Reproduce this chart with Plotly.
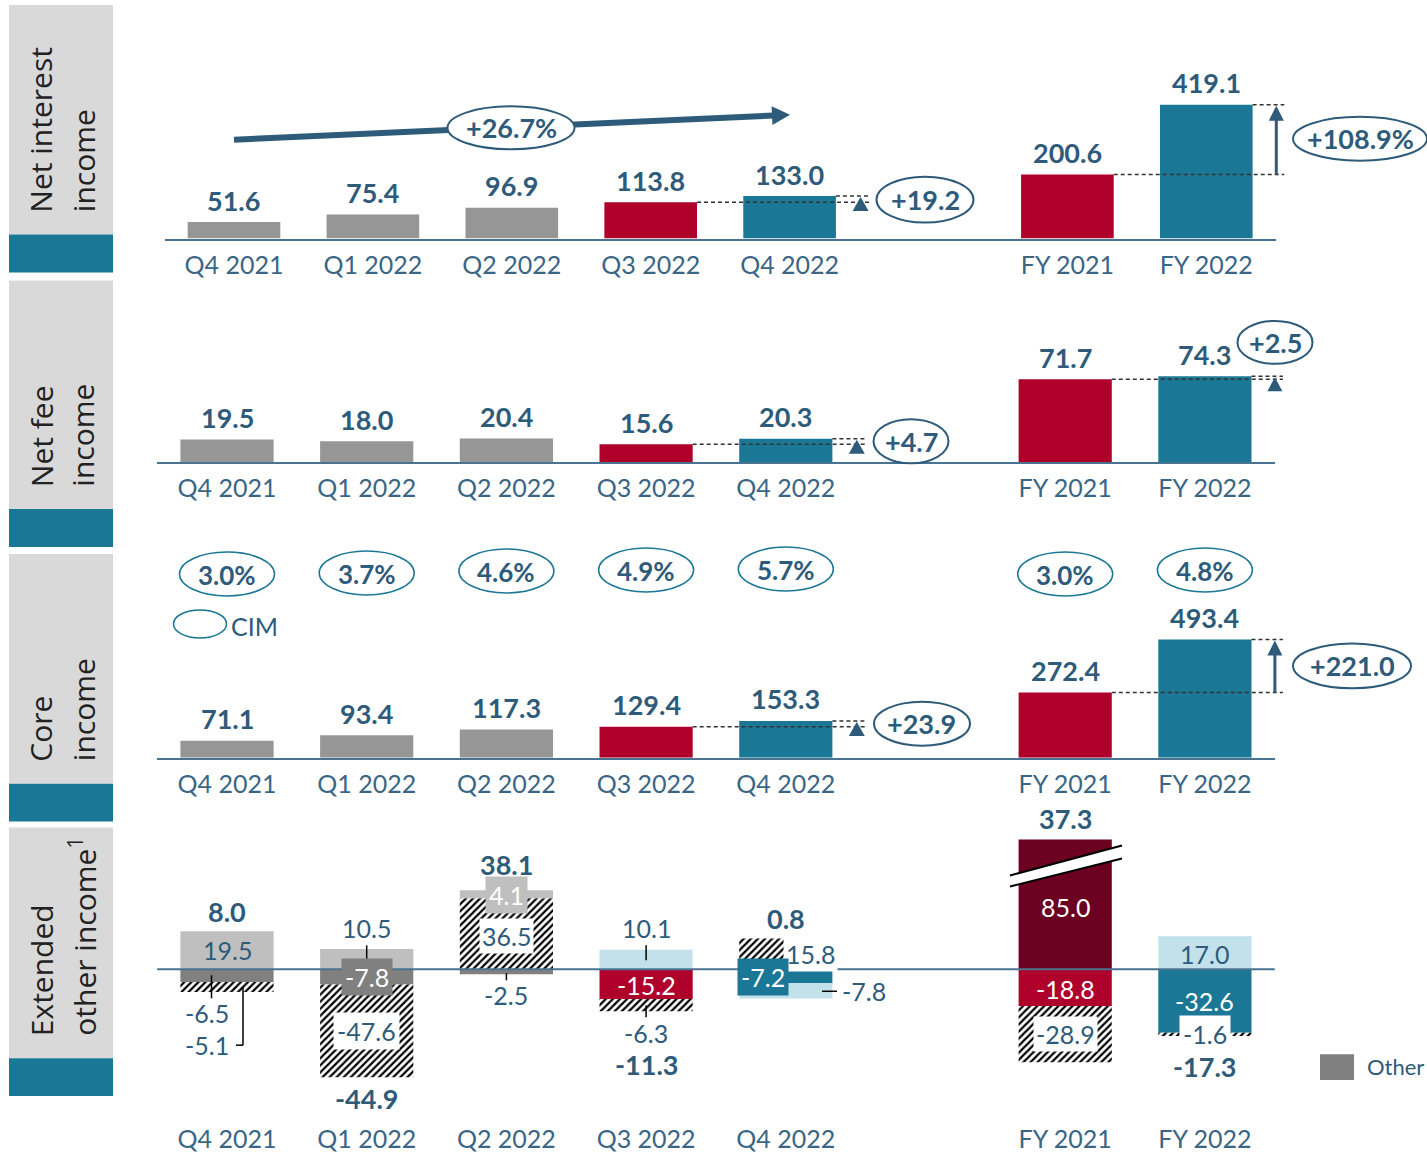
import plotly.graph_objects as go

# ---------------------------------------------------------------- data
periods = ["Q4 2021", "Q1 2022", "Q2 2022", "Q3 2022", "Q4 2022", "FY 2021", "FY 2022"]
xpos = [0, 1, 2, 3, 4, 6, 7]

nii = [51.6, 75.4, 96.9, 113.8, 133.0, 200.6, 419.1]
nfi = [19.5, 18.0, 20.4, 15.6, 20.3, 71.7, 74.3]
core = [71.1, 93.4, 117.3, 129.4, 153.3, 272.4, 493.4]
cim = ["3.0%", "3.7%", "4.6%", "4.9%", "5.7%", "3.0%", "4.8%"]

eoi_other = [-6.5, -7.8, -2.5, -15.2, -7.2, -18.8, -32.6]
eoi_hatched = [-5.1, -47.6, 36.5, -6.3, 15.8, -28.9, -1.6]
eoi_light = [19.5, 10.5, 4.1, 10.1, -7.8, 85.0, 17.0]
eoi_total = [8.0, -44.9, 38.1, -11.3, 0.8, 37.3, -17.3]

nii_qoq, nii_trend, nii_yoy = "+19.2", "+26.7%", "+108.9%"
nfi_qoq, nfi_yoy = "+4.7", "+2.5"
core_qoq, core_yoy = "+23.9", "+221.0"

side_titles = [("Net interest", "income"), ("Net fee", "income"),
               ("Core", "income"), ("Extended", "other income<sup>1</sup>")]

# ---------------------------------------------------------------- style
W, H = 1427, 1153
FONT = "Lato"
SIDE_FONT = "Open Sans"
GRAY, RED, TEAL, DARKRED = "#969696", "#AF002B", "#1A7796", "#6B0021"
LGRAY, DGRAY, LBLUE = "#BFBFBF", "#808080", "#C2E1EB"
NAVY, TICK, AXIS = "#2E5B7A", "#3A6585", "#4A7391"
BAR_W = 0.667
VAL_SIZE = 27

bar_colors = [GRAY, GRAY, GRAY, RED, TEAL, RED, TEAL]
other_colors = [DGRAY, DGRAY, DGRAY, RED, TEAL, RED, TEAL]
light_colors = [LGRAY, LGRAY, LGRAY, LBLUE, LBLUE, DARKRED, LBLUE]

# pixel geometry of each panel: x of first slot, slot width, baseline, px per unit
geo = {
    1: dict(x0=234.0, unit=138.9, base=239.0, scale=0.32, top=55.0, bottom=239.0),
    2: dict(x0=227.0, unit=139.7, base=463.0, scale=1.16, top=300.0, bottom=463.0),
    3: dict(x0=227.0, unit=139.7, base=759.0, scale=0.24, top=600.0, bottom=759.0),
    4: dict(x0=227.0, unit=139.7, base=971.0, scale=1.95, top=841.0, bottom=1116.0),
}


def X(p, xv):
    g = geo[p]
    return g["x0"] + xv * g["unit"]


def Y(p, v):
    g = geo[p]
    return g["base"] - v * g["scale"]


def px(xp, yp):
    return xp / W, 1 - yp / H


fig = go.Figure()


def ax(p):
    return ("x" if p == 1 else f"x{p}"), ("y" if p == 1 else f"y{p}")


def add_bar(p, vals, colors, pattern=None):
    xa, ya = ax(p)
    marker = dict(color=colors, line=dict(width=0))
    if pattern:
        marker["pattern"] = pattern
    fig.add_trace(go.Bar(x=xpos, y=vals, width=BAR_W, marker=marker,
                         xaxis=xa, yaxis=ya, showlegend=False, hoverinfo="skip"))


add_bar(1, nii, bar_colors)
add_bar(2, nfi, bar_colors)
add_bar(3, core, bar_colors)
# extended other income: stacked segments
add_bar(4, eoi_other, other_colors)
add_bar(4, eoi_hatched, "white",
        pattern=dict(shape="/", fgcolor="black", bgcolor="white", size=5,
                     solidity=0.45, fgopacity=1))
add_bar(4, eoi_light, light_colors)

layout = dict(width=W, height=H, margin=dict(l=0, r=0, t=0, b=0),
              paper_bgcolor="white", plot_bgcolor="white", barmode="relative",
              showlegend=False)
for p, g in geo.items():
    xl = X(p, -0.5) / W
    xr = X(p, 7.5) / W
    ydom = [1 - g["bottom"] / H, 1 - g["top"] / H]
    yr = [(g["base"] - g["bottom"]) / g["scale"], (g["base"] - g["top"]) / g["scale"]]
    sfx = "" if p == 1 else str(p)
    layout[f"xaxis{sfx}"] = dict(
        domain=[xl, xr], range=[-0.5, 7.5], anchor=f"y{sfx}",
        tickvals=xpos, ticktext=periods, showgrid=False, zeroline=False,
        showline=(p < 4), linecolor=AXIS, linewidth=2,
        ticks="outside", ticklen=3, tickcolor="rgba(0,0,0,0)",
        tickfont=dict(family=FONT, size=25, color=TICK), fixedrange=True)
    layout[f"yaxis{sfx}"] = dict(domain=ydom, range=yr, visible=False,
                                 anchor=f"x{sfx}", fixedrange=True)
fig.update_layout(**layout)


# ---------------------------------------------------------------- helpers
def label(xp, yp, text, size=25, bold=False, color=NAVY, bg="rgba(0,0,0,0)",
          pad=1, xanchor="center", family=FONT):
    x, y = px(xp, yp)
    fig.add_annotation(xref="paper", yref="paper", x=x, y=y,
                       text=f"<b>{text}</b>" if bold else text, showarrow=False,
                       font=dict(family=family, size=size, color=color),
                       bgcolor=bg, borderpad=pad, xanchor=xanchor, yanchor="middle")


def oval(cx, cy, w, h, color=NAVY, width=2):
    x0, y1 = px(cx - w / 2, cy - h / 2)
    x1, y0 = px(cx + w / 2, cy + h / 2)
    fig.add_shape(type="circle", xref="paper", yref="paper", x0=x0, x1=x1, y0=y0, y1=y1,
                  fillcolor="white", line=dict(color=color, width=width), layer="above")


def seg(xa, ya, xb, yb, color="black", width=1.5, dash=None):
    x0, y0 = px(xa, ya)
    x1, y1 = px(xb, yb)
    line = dict(color=color, width=width)
    if dash:
        line["dash"] = dash
    fig.add_shape(type="line", xref="paper", yref="paper", x0=x0, y0=y0, x1=x1, y1=y1,
                  line=line, layer="above")


def poly(points, fill, line_color=None, line_width=0):
    pts = [px(a, b) for a, b in points]
    path = "M " + " L ".join(f"{a:.5f},{b:.5f}" for a, b in pts) + " Z"
    fig.add_shape(type="path", xref="paper", yref="paper", path=path, fillcolor=fill,
                  line=dict(color=line_color or fill, width=line_width), layer="above")


def rect(xa, ya, xb, yb, fill):
    x0, y1 = px(xa, ya)
    x1, y0 = px(xb, yb)
    fig.add_shape(type="rect", xref="paper", yref="paper", x0=x0, x1=x1, y0=y0, y1=y1,
                  fillcolor=fill, line=dict(width=0), layer="below")


def up_triangle(cx, tip_y, w, h, color=NAVY):
    poly([(cx, tip_y), (cx + w / 2, tip_y + h), (cx - w / 2, tip_y + h)], color)


DASH = "4px,3px"
HALF = BAR_W / 2


def bridge(p, vals, qoq_text, qoq_oval, yoy_text, yoy_oval, yoy_arrow):
    # quarter-on-quarter dashed guides and marker
    q_end = X(p, 4) + 80
    seg(X(p, 3 + HALF), Y(p, vals[3]), q_end, Y(p, vals[3]), "#333333", 1.5, DASH)
    seg(X(p, 4 + HALF), Y(p, vals[4]), q_end, Y(p, vals[4]), "#333333", 1.5, DASH)
    up_triangle(q_end - 9, Y(p, vals[4]) + 1, 16, 14)
    oval(*qoq_oval)
    label(qoq_oval[0], qoq_oval[1], qoq_text, size=VAL_SIZE, bold=True)
    # year-on-year guides
    f_end = X(p, 7) + 78
    seg(X(p, 6 + HALF), Y(p, vals[5]), f_end, Y(p, vals[5]), "#333333", 1.5, DASH)
    seg(X(p, 7 + HALF), Y(p, vals[6]), f_end, Y(p, vals[6]), "#333333", 1.5, DASH)
    ax_x = f_end - 8
    if yoy_arrow:
        seg(ax_x, Y(p, vals[5]), ax_x, Y(p, vals[6]) + 12, NAVY, 3)
        up_triangle(ax_x, Y(p, vals[6]) + 1, 15, 15)
    else:
        up_triangle(ax_x, Y(p, vals[6]) + 1, 15, 14)
    oval(*yoy_oval)
    label(yoy_oval[0], yoy_oval[1], yoy_text, size=VAL_SIZE, bold=True)


# ---------------------------------------------------------------- side panels
side_boxes = [(5, 235, 273), (281, 510, 548), (555, 785, 823), (829, 1060, 1098)]
text_bottoms = [215, 490, 765, 1040]
for (g0, g1, t1), (l1, l2), tb in zip(side_boxes, side_titles, text_bottoms):
    rect(9, g0, 113, g1, "#D9D9D9")
    rect(9, g1, 113, t1, TEAL)
    for cx, txt in ((41, l1), (83, l2)):
        x, y = px(cx, tb)
        fig.add_annotation(xref="paper", yref="paper", x=x, y=y, text=txt, textangle=-90,
                           showarrow=False, xanchor="center", yanchor="bottom",
                           font=dict(family=SIDE_FONT, size=30, color="#222222"))

# ---------------------------------------------------------------- value labels (panels 1-3)
for p, vals in ((1, nii), (2, nfi), (3, core)):
    for xv, v in zip(xpos, vals):
        label(X(p, xv), Y(p, v) - 22, f"{v:.1f}", size=VAL_SIZE, bold=True)

# trend arrow across the quarters (panel 1)
tail = (234.0, 140.0)
tip = (790.0, 115.0)
dx, dy = tip[0] - tail[0], tip[1] - tail[1]
ln = (dx ** 2 + dy ** 2) ** 0.5
ux, uy = dx / ln, dy / ln
bx, by = tip[0] - 18 * ux, tip[1] - 18 * uy
seg(tail[0], tail[1], bx + 2 * ux, by + 2 * uy, NAVY, 6)
poly([tip, (bx - 9.5 * uy, by + 9.5 * ux), (bx + 9.5 * uy, by - 9.5 * ux)], NAVY)
oval(511, 128, 127, 43)
label(511, 128, nii_trend, size=VAL_SIZE, bold=True)

bridge(1, nii, nii_qoq, (925, 200, 97, 46), nii_yoy, (1360, 139, 134, 44), True)
bridge(2, nfi, nfi_qoq, (911, 442, 75, 44), nfi_yoy, (1275, 343, 75, 43), False)
bridge(3, core, core_qoq, (922, 725, 96, 44), core_yoy, (1352, 667, 118, 45), True)

# CIM ovals
cim_y = [575, 574, 572, 571, 570, 575, 571]
for xv, t, cy in zip(xpos, cim, cim_y):
    oval(X(3, xv), cy, 95, 44, TEAL, 1.5)
    label(X(3, xv), cy + 1, t, size=26, bold=True)
oval(200, 625, 53, 28, TEAL, 1.5)
label(229, 627, "CIM", size=25, xanchor="left")

# ---------------------------------------------------------------- panel 4 annotations
seg(X(4, -0.5), Y(4, 0), X(4, 7.5), Y(4, 0), AXIS, 2)


def cx4(i):
    return X(4, xpos[i])


def mid(start, v):
    return Y(4, start + v / 2)


f1 = lambda v: f"{v:.1f}"
WHITE = "white"

# Q4 2021
i = 0
label(cx4(i), mid(0, eoi_light[i]), f1(eoi_light[i]))
label(cx4(i) - 20, 1015, f1(eoi_other[i]))
label(cx4(i) - 20, 1047, f1(eoi_hatched[i]))
seg(211.5, 977, 211.5, 1000)
seg(243, 989, 243, 1047)
seg(236, 1047, 243, 1047)
label(cx4(i), Y(4, eoi_light[i]) - 20, f1(eoi_total[i]), size=VAL_SIZE, bold=True)
# Q1 2022
i = 1
label(cx4(i), 930, f1(eoi_light[i]))
seg(cx4(i), 947, cx4(i), 962)
label(cx4(i), 979, f1(eoi_other[i]), color=WHITE, bg=DGRAY, pad=3)
label(cx4(i), mid(eoi_other[i], eoi_hatched[i]), f1(eoi_hatched[i]), bg=WHITE, pad=3)
label(cx4(i), Y(4, eoi_other[i] + eoi_hatched[i]) + 21, f1(eoi_total[i]), size=VAL_SIZE, bold=True)
# Q2 2022
i = 2
label(cx4(i), mid(0, eoi_hatched[i]) + 2, f1(eoi_hatched[i]), bg=WHITE, pad=2)
label(cx4(i), mid(eoi_hatched[i], eoi_light[i]) + 1, f1(eoi_light[i]), color=WHITE, bg=LGRAY, pad=3)
label(cx4(i), 997, f1(eoi_other[i]))
seg(cx4(i), 975, cx4(i), 982)
label(cx4(i), 866, f1(eoi_total[i]), size=VAL_SIZE, bold=True)
# Q3 2022
i = 3
label(cx4(i), 930, f1(eoi_light[i]))
seg(cx4(i), 947, cx4(i), 962)
label(cx4(i), mid(0, eoi_other[i]) + 1, f1(eoi_other[i]), color=WHITE)
seg(cx4(i), 1007, cx4(i), 1019)
label(cx4(i), 1035, f1(eoi_hatched[i]))
label(cx4(i), 1066, f1(eoi_total[i]), size=VAL_SIZE, bold=True)
# Q4 2022
i = 4
label(cx4(i) + 25, 956, f1(eoi_hatched[i]), bg=WHITE, pad=2)
label(cx4(i) - 23, 978.5, f1(eoi_other[i]), color=WHITE, bg=TEAL, pad=3)
seg(822, 993, 837, 993)
label(864, 993, f1(eoi_light[i]))
label(cx4(i), 920, f1(eoi_total[i]), size=VAL_SIZE, bold=True)
# FY 2021 (positive segment runs past the panel top: axis break)
i = 5
poly([(1010, 877), (1122, 847), (1122, 860), (1010, 888)], WHITE)
seg(1010, 877, 1122, 847, "black", 2)
seg(1010, 888, 1122, 860, "black", 2)
label(cx4(i), 909, f1(eoi_light[i]), color=WHITE)
label(cx4(i), mid(0, eoi_other[i]) + 1, f1(eoi_other[i]), color=WHITE)
label(cx4(i), mid(eoi_other[i], eoi_hatched[i]), f1(eoi_hatched[i]), bg=WHITE, pad=2)
label(cx4(i), 820, f1(eoi_total[i]), size=VAL_SIZE, bold=True)
# FY 2022
i = 6
label(cx4(i), mid(0, eoi_light[i]) + 1, f1(eoi_light[i]))
label(cx4(i), mid(0, eoi_other[i]), f1(eoi_other[i]), color=WHITE)
label(cx4(i), 1036, f1(eoi_hatched[i]), bg=WHITE, pad=3)
label(cx4(i), 1068, f1(eoi_total[i]), size=VAL_SIZE, bold=True)

# legend swatch for "Other"
rect(1320, 1056, 1354, 1082, DGRAY)
label(1365, 1068, "Other", size=22, xanchor="left")

fig.write_html("out.html")
